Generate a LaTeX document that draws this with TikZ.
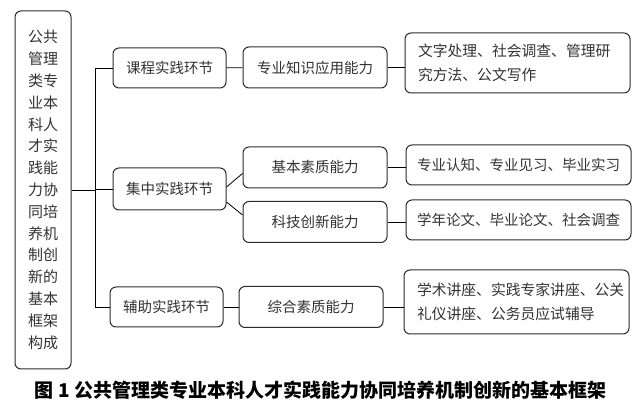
\documentclass[tikz,border=0pt]{standalone}
\usepackage{fontspec}
\setmainfont{Noto Sans CJK SC}
\usetikzlibrary{positioning, calc}
\definecolor{inkline}{HTML}{2B2B2B}
\definecolor{inktext}{HTML}{333333}

\begin{document}
\begin{tikzpicture}[x=1pt, y=-1pt,
    box/.style={draw=inkline, line width=1pt, rounded corners=6pt,
                fill=white, text=inktext, inner sep=0pt,
                font=\fontsize{14.5}{18}\selectfont},
    stage/.style={box, minimum width=113pt, minimum height=40pt},
    skill/.style={box, minimum width=144pt, minimum height=41pt},
    itemone/.style={box, minimum width=225pt, minimum height=40pt},
    itemtwo/.style={box, minimum width=225pt, text width=199pt,
                    align=left, font=\fontsize{14.8}{24}\selectfont},
    link/.style={line width=0.8pt, black}]
  \useasboundingbox (0,0) rectangle (641,406);
  % left frame
  \node[box, minimum width=56pt, minimum height=358pt, align=center,
        font=\fontsize{15}{21.8}\selectfont] (frame) at (43,190)
    {公共\\管理\\类专\\业本\\科人\\才实\\践能\\力协\\同培\\养机\\制创\\新的\\基本\\框架\\构成};
  % stages
  \node[stage] (kc) at (169.5,68)  {课程实践环节};
  \node[stage, minimum height=42pt] (jz) at (169.5,189) {集中实践环节};
  \node[stage] (fz) at (166.5,307) {辅助实践环节};
  % abilities
  \node[skill] (zy) at (315,67.5)  {专业知识应用能力};
  \node[skill] (jb) at (315,167.5) {基本素质能力};
  \node[skill] (kj) at (315,222)   {科技创新能力};
  \node[skill] (zh) at (311,307)   {综合素质能力};
  % contents
  \node[itemtwo, minimum height=60pt] (wz) at (517.5,63)
    {文字处理、社会调查、管理研\\究方法、公文写作};
  \node[itemone] (rz) at (518.5,165) {专业认知、专业见习、毕业实习};
  \node[itemone] (xn) at (518.5,220) {学年论文、毕业论文、社会调查};
  \node[itemtwo, minimum height=64pt] (xs) at (516.5,302)
    {学术讲座、实践专家讲座、公关\\礼仪讲座、公务员应试辅导};
  % connectors
  \coordinate (trunk) at (95,0);
  \draw[link] (frame.east) -- (trunk |- frame.east);
  \draw[link] (trunk |- kc.west) -- (trunk |- fz.west);
  \foreach \s in {kc, jz, fz}
    \draw[link] (trunk |- \s.west) -- (\s.west);
  \draw[link] (kc) -- (zy);
  \draw[link] (fz) -- (zh);
  \draw[link] ($(jz.east)+(0,-2)$) -- ($(jb.west)+(0,6)$);
  \draw[link] ($(jz.east)+(0,13)$) -- ($(kj.west)+(0,-7)$);
  \foreach \a/\b in {zy/wz, jb/rz, kj/xn, zh/xs}
    \draw[link] (\a.east) -- (\a.east -| \b.west);
  % caption
  \node[font=\fontsize{19}{22}\selectfont\bfseries, text=black] (caption)
    at (320.5,390) {图 1 公共管理类专业本科人才实践能力协同培养机制创新的基本框架};
\end{tikzpicture}
\end{document}
